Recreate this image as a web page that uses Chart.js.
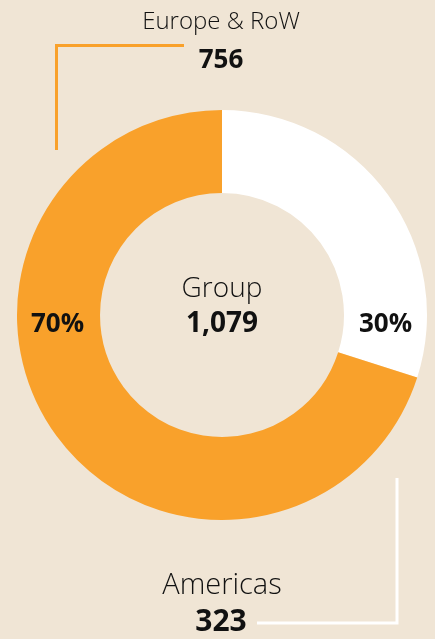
<!DOCTYPE html>
<html>
<head>
<meta charset="utf-8">
<script src="https://cdn.jsdelivr.net/npm/chart.js@4"></script>
<style>
  html, body { margin: 0; padding: 0; background: #f0e5d5; }
  #wrap { width: 435px; height: 639px; position: relative; }
</style>
</head>
<body>
<div id="wrap"><canvas id="chart" width="435" height="639"></canvas></div>
<script>
// data
const regions = ['Americas', 'Europe & RoW'];
const values = [323, 756];
const colors = ['#ffffff', '#f9a12b'];
const totalLabel = 'Group';

const total = values.reduce((a, b) => a + b, 0);

const FONT = '"Open Sans", "DejaVu Sans", sans-serif';

// draws center text, percent labels and the leader lines
const annotate = {
    id: 'annotate',
    afterDraw(chart) {
        const ctx = chart.ctx;
        const arc = chart.getDatasetMeta(0).data[0];
        const cx = arc.x;
        const cy = arc.y;
        const midR = (arc.innerRadius + arc.outerRadius) / 2;

        ctx.save();
        ctx.textAlign = 'center';
        ctx.textBaseline = 'middle';
        ctx.fillStyle = '#111';

        // centre
        ctx.font = '300 28px ' + FONT;
        ctx.fillText(totalLabel, cx, cy - 26);
        ctx.font = 'bold 28px ' + FONT;
        ctx.fillText(total.toLocaleString('en-US'), cx, cy + 9);

        // percentages
        const pct = values.map(v => Math.round(v / total * 100) + '%');
        ctx.font = 'bold 26px ' + FONT;
        ctx.fillText(pct[0], cx + midR, cy + 10);
        ctx.fillText(pct[1], cx - midR - 1, cy + 10);

        // Europe & RoW (top)
        ctx.font = '300 24px ' + FONT;
        ctx.fillText(regions[1], cx - 1, 22);
        ctx.font = 'bold 26px ' + FONT;
        ctx.fillText(String(values[1]), cx - 1, 61);

        // Americas (bottom)
        ctx.font = '300 29px ' + FONT;
        ctx.fillText(regions[0], cx, 586);
        ctx.font = 'bold 30px ' + FONT;
        ctx.fillText(String(values[0]), cx - 1, 622);

        // leader lines
        ctx.lineWidth = 3;
        ctx.strokeStyle = colors[1];
        ctx.beginPath();
        ctx.moveTo(184, 45.5);
        ctx.lineTo(56.5, 45.5);
        ctx.lineTo(56.5, 150);
        ctx.stroke();

        ctx.strokeStyle = colors[0];
        ctx.beginPath();
        ctx.moveTo(397, 478);
        ctx.lineTo(397, 623);
        ctx.lineTo(257, 623);
        ctx.stroke();
        ctx.restore();
    }
};

new Chart(document.getElementById('chart'), {
    type: 'doughnut',
    data: {
        labels: regions,
        datasets: [{
            data: values,
            backgroundColor: colors,
            borderWidth: 0,
        }]
    },
    options: {
        responsive: false,
        animation: false,
        cutout: '59.5%',
        rotation: 0,
        layout: {
            padding: { left: 17, right: 8, top: 110, bottom: 119 }
        },
        plugins: {
            legend: { display: false },
            tooltip: { enabled: false },
        },
    },
    plugins: [annotate],
});
</script>
</body>
</html>
